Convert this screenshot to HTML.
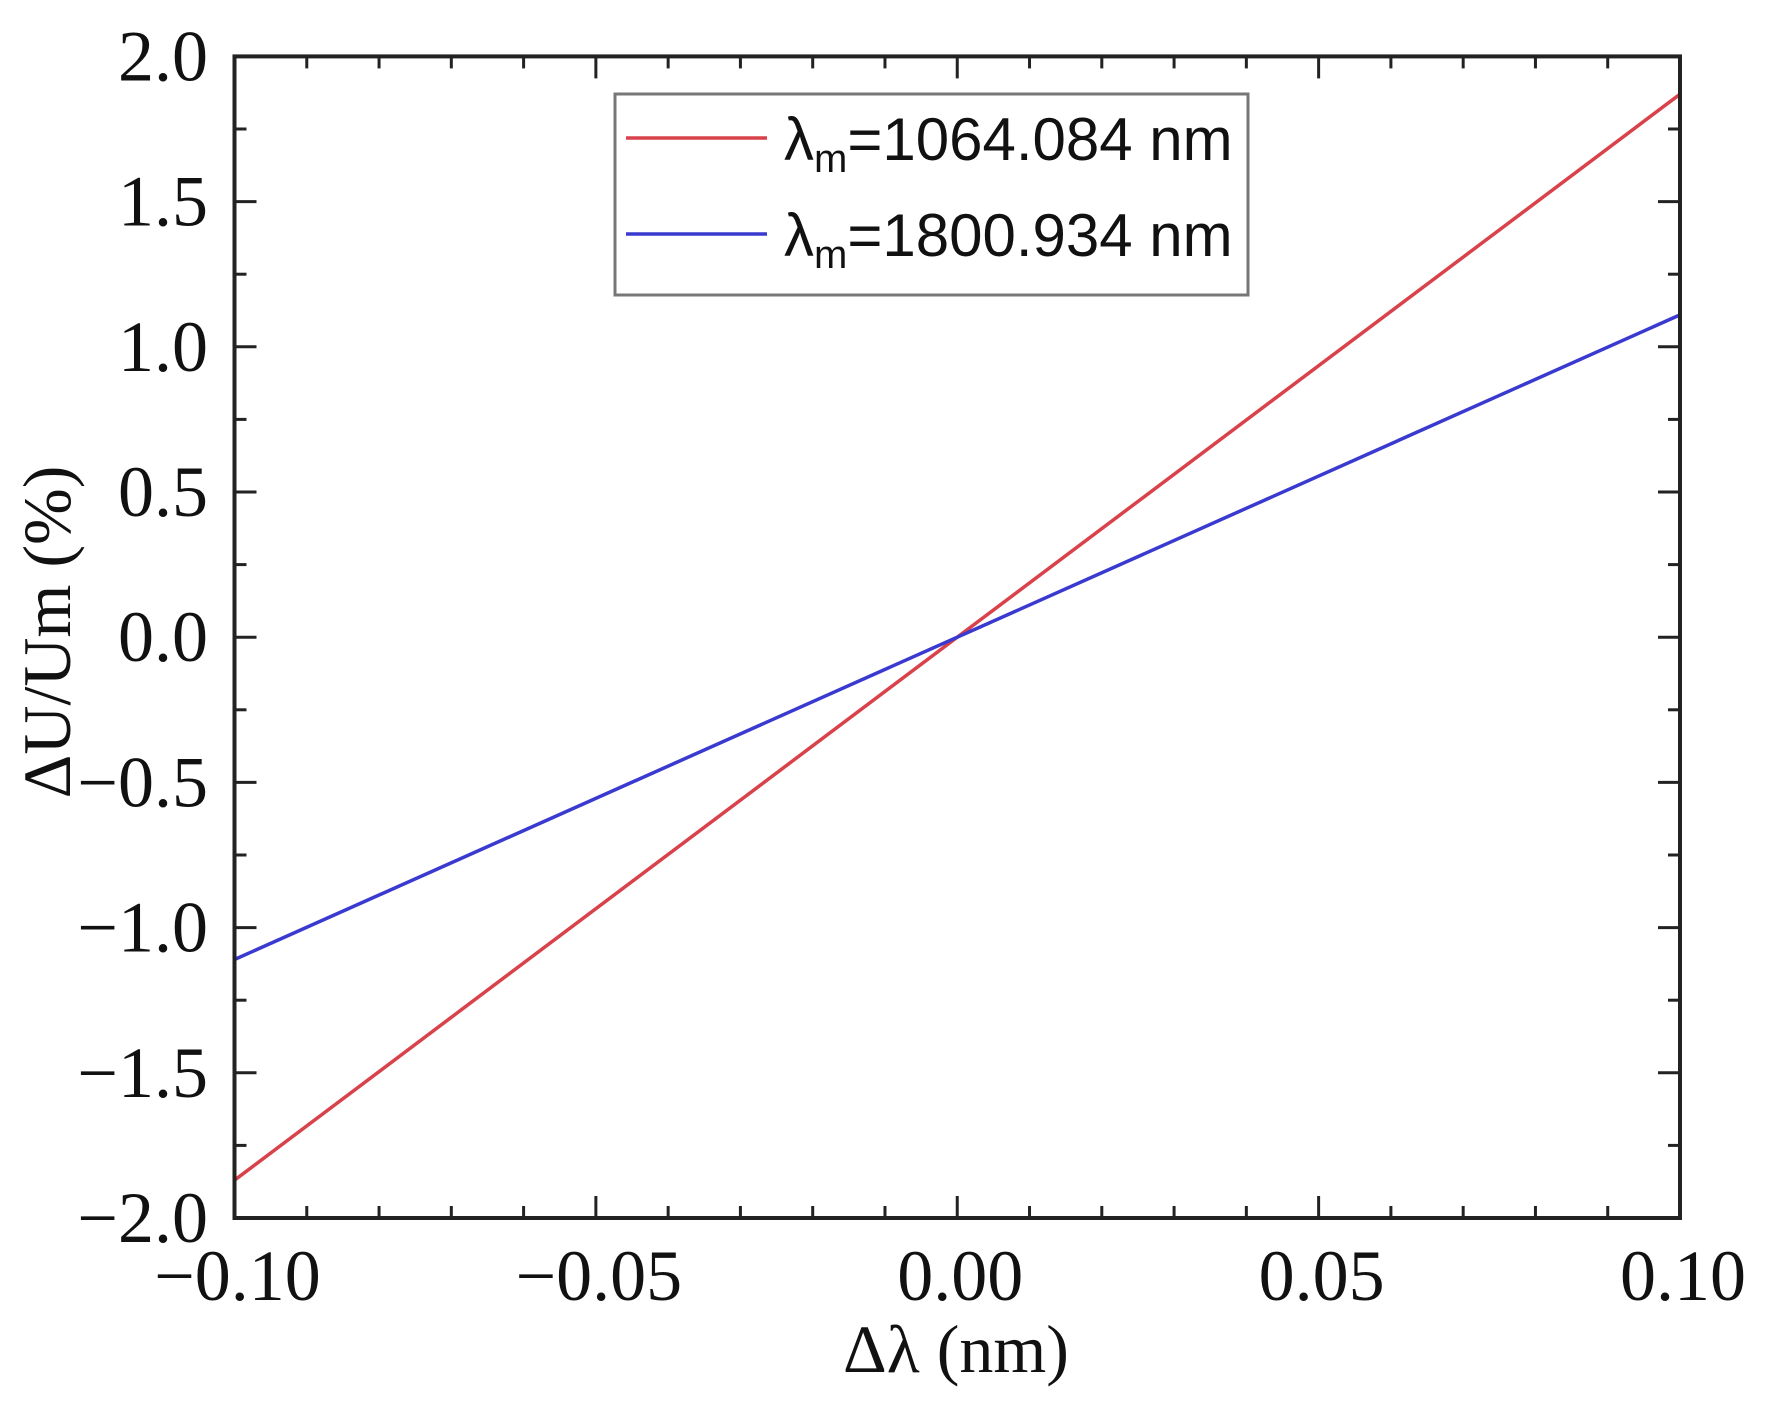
<!DOCTYPE html>
<html><head><meta charset="utf-8"><style>
html,body{margin:0;padding:0;background:#fff;}
</style></head><body>
<svg width="1768" height="1397" xmlns="http://www.w3.org/2000/svg" font-family="'Liberation Serif', serif">
<rect width="1768" height="1397" fill="#fff"/>
<line x1="234.5" y1="1180.2" x2="1680" y2="94.2" stroke="#d9424a" stroke-width="3.5"/>
<line x1="234.5" y1="959.5" x2="1680" y2="314.9" stroke="#3a3ad0" stroke-width="3.5"/>
<rect x="615" y="94" width="633" height="201" fill="#fff" stroke="#777" stroke-width="3"/>
<line x1="626" y1="138" x2="767" y2="138" stroke="#d9424a" stroke-width="3.5"/>
<line x1="626" y1="234" x2="767" y2="234" stroke="#3a3ad0" stroke-width="3.5"/>
<text x="784" y="160" font-size="60" fill="#111" font-family="'Liberation Sans', sans-serif">λ<tspan font-size="40" dy="12">m</tspan><tspan dy="-12">=1064.084 nm</tspan></text>
<text x="784" y="256" font-size="60" fill="#111" font-family="'Liberation Sans', sans-serif">λ<tspan font-size="40" dy="12">m</tspan><tspan dy="-12">=1800.934 nm</tspan></text>
<text x="956" y="1372" font-size="68" text-anchor="middle" fill="#111">Δλ (nm)</text>
<text transform="translate(70,632) rotate(-90)" font-size="68" text-anchor="middle" fill="#111">ΔU/Um (%)</text>
<g id="g"></g>
<script>
(function(){
var ns="http://www.w3.org/2000/svg";
var svg=document.getElementById('g');
var L=234.5,R=1680,T=56.4,B=1218;
function X(v){return L+(v+0.1)/0.2*(R-L);}
function Y(v){return B-(v+2)/4*(B-T);}
function line(x1,y1,x2,y2,c,w){var l=document.createElementNS(ns,'line');l.setAttribute('x1',x1);l.setAttribute('y1',y1);l.setAttribute('x2',x2);l.setAttribute('y2',y2);l.setAttribute('stroke',c);l.setAttribute('stroke-width',w);svg.appendChild(l);}
function text(x,y,s,anchor,size){var t=document.createElementNS(ns,'text');t.setAttribute('x',x);t.setAttribute('y',y);t.setAttribute('text-anchor',anchor);t.setAttribute('font-size',size);t.setAttribute('fill','#111');t.textContent=s;svg.appendChild(t);return t;}
for(var i=0;i<=20;i++){var v=-0.1+i*0.01;var x=X(v);var len=(i%5==0)?22:12;
 line(x,B,x,B-len,'#222',3);line(x,T,x,T+len,'#222',3);
 if(i%5==0){var s=v.toFixed(2);if(Math.abs(v)<1e-9)s='0.00';s=s.replace('-','\u2212');text(x+3,1300,s,'middle',72);}
}
for(var j=0;j<=16;j++){var v=-2+j*0.25;var y=Y(v);var len=(j%2==0)?22:12;
 line(L,y,L+len,y,'#222',3);line(R,y,R-len,y,'#222',3);
 if(j%2==0){var s=v.toFixed(1).replace('-','\u2212');text(208,y+24,s,'end',72);}
}
var r=document.createElementNS(ns,'rect');r.setAttribute('x',L);r.setAttribute('y',T);r.setAttribute('width',R-L);r.setAttribute('height',B-T);r.setAttribute('fill','none');r.setAttribute('stroke','#222');r.setAttribute('stroke-width',4);svg.appendChild(r);
})();
</script>
</svg>
</body></html>
